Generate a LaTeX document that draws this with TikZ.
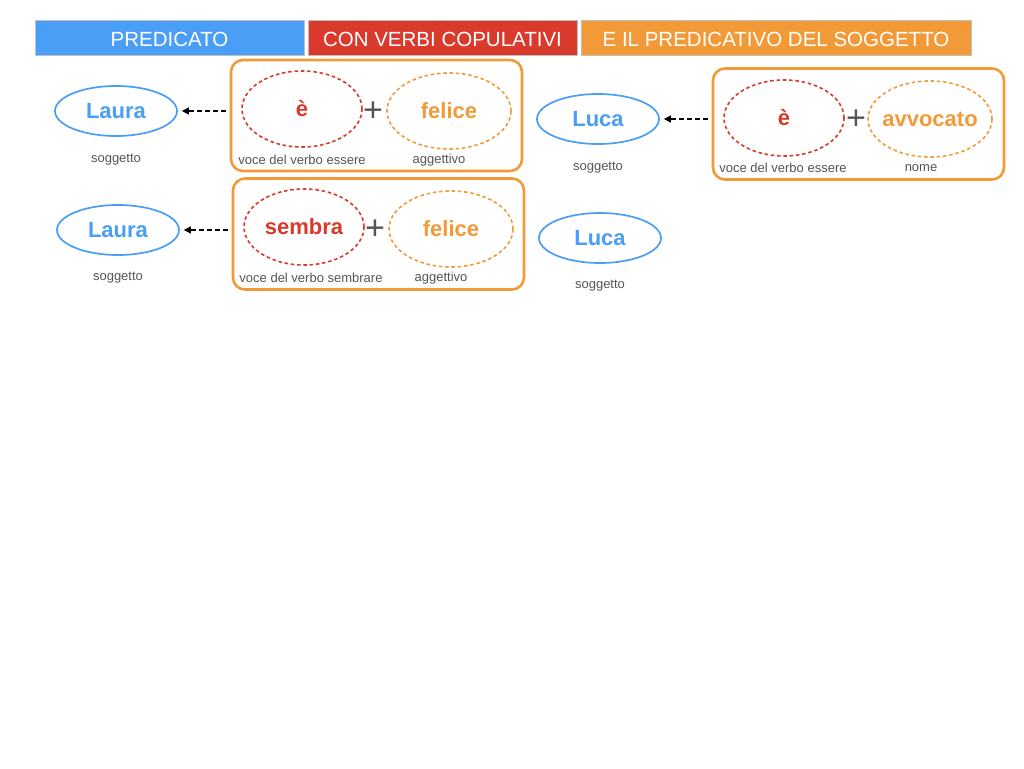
\documentclass[tikz,border=0pt]{standalone}
\usepackage{fontspec}
\setmainfont{Liberation Sans}
\usepackage{xcolor}
\usetikzlibrary{shapes.geometric, arrows.meta}

\definecolor{hblue}{HTML}{4A9EF5}
\definecolor{hred}{HTML}{D93A2B}
\definecolor{horange}{HTML}{F29A38}
\definecolor{tgray}{HTML}{555555}

\begin{document}
\begin{tikzpicture}[x=1pt, y=-1pt,
  head/.style={draw=black!25, line width=0.8pt, minimum width=269pt, minimum height=35pt,
               inner sep=0pt, text height=18pt, text=white, font=\fontsize{20.5}{24}\selectfont},
  subj/.style={ellipse, draw=hblue, line width=1.7pt, minimum width=122pt, minimum height=50pt,
               inner sep=0pt, inner xsep=-20pt, text=hblue, font=\fontsize{22}{26}\selectfont\bfseries},
  verb/.style={ellipse, draw=hred, dashed, dash pattern=on 3.5pt off 2.8pt, line width=1.6pt,
               minimum width=120pt, minimum height=76pt, inner sep=0pt, inner xsep=-20pt, text=hred,
               font=\fontsize{22}{26}\selectfont\bfseries},
  pred/.style={ellipse, draw=horange, dashed, dash pattern=on 3.5pt off 2.8pt, line width=1.6pt,
               minimum width=124pt, minimum height=76pt, inner sep=0pt, inner xsep=-20pt, text=horange,
               font=\fontsize{22}{26}\selectfont\bfseries},
  group/.style={draw=horange, line width=2.6pt, rounded corners=12pt, minimum width=291pt,
                minimum height=111pt, inner sep=0pt},
  note/.style={text=tgray, font=\fontsize{13}{15}\selectfont, inner sep=0pt},
  plus/.style={text=tgray, font=\fontsize{34}{36}\selectfont, inner sep=0pt},
  link/.style={dash pattern=on 4.5pt off 3.5pt, line width=1.4pt, -{Triangle[length=7pt, width=7pt]}}
]
\path[fill=white] (0,0) rectangle (1024,768);
\useasboundingbox (0,0) rectangle (1024,768);

% headers
\node[head, fill=hblue]  (h1) at (169.5, 37.5) {PREDICATO};
\node[head, fill=hred]   (h2) at (442.5, 37.5) {CON VERBI COPULATIVI};
\node[head, fill=horange, minimum width=390pt] (h3) at (776, 37.5) {E IL PREDICATIVO DEL SOGGETTO};

% first row, left
\node[group] (box1)   at (376.5, 115.5) {};
\node[subj]  (laura1) at (116, 111) {Laura};
\node[note]  (sog1)   at (116, 160) {soggetto};
\node[verb]  (verb1)  at (302, 109) {è};
\node[plus]  (plus1)  at (373, 112) {+};
\node[pred]  (pred1)  at (449, 111) {felice};
\node[note]  (vlab1)  at (302, 160) {voce del verbo essere};
\node[note]  (plab1)  at (439, 160) {aggettivo};

% first row, right
\node[group] (box2)   at (858.5, 124) {};
\node[subj]  (luca1)  at (598, 119) {Luca};
\node[note]  (sog2)   at (598, 168) {soggetto};
\node[verb]  (verb2)  at (784, 118) {è};
\node[plus]  (plus2)  at (856, 120) {+};
\node[pred]  (pred2)  at (930, 119) {avvocato};
\node[note]  (vlab2)  at (783, 168) {voce del verbo essere};
\node[note]  (plab2)  at (921, 168) {nome};

% second row
\node[group] (box3)   at (378.5, 234) {};
\node[subj]  (laura2) at (118, 230) {Laura};
\node[note]  (sog3)   at (118, 278) {soggetto};
\node[verb]  (verb3)  at (304, 227) {sembra};
\node[plus]  (plus3)  at (375, 230) {+};
\node[pred]  (pred3)  at (451, 229) {felice};
\node[note]  (vlab3)  at (311, 278) {voce del verbo sembrare};
\node[note]  (plab3)  at (441, 278) {aggettivo};
\node[subj]  (luca2)  at (600, 238) {Luca};
\node[note]  (sog4)   at (600, 286) {soggetto};

\draw[link, shorten <=4pt, shorten >=4pt] (box1.west |- laura1.east) -- (laura1.east);
\draw[link, shorten <=4pt, shorten >=4pt] (box2.west |- luca1.east)  -- (luca1.east);
\draw[link, shorten <=4pt, shorten >=4pt] (box3.west |- laura2.east) -- (laura2.east);
\end{tikzpicture}
\end{document}
